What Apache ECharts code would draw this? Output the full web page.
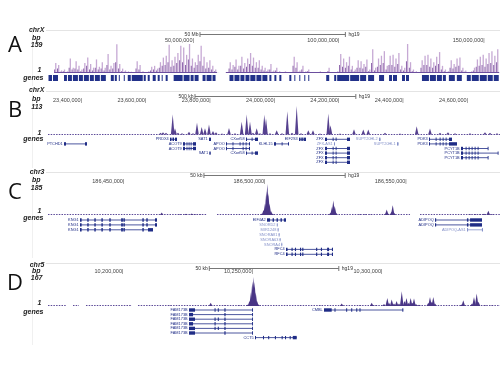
<!DOCTYPE html>
<html><head><meta charset="utf-8">
<script src="https://cdn.jsdelivr.net/npm/echarts@6/dist/echarts.min.js"></script>
<style>html,body{margin:0;padding:0;background:#fff}#c{width:500px;height:375px}</style>
</head><body><div id="c"></div>
<script>
// ---------------- DATA ----------------
const panelLetters = ['A','B','C','D'];
const chromNames = ['chrX','chrX','chr3','chr5'];
const maxBp = [159,113,185,167];
const xMin = [0, 23294300, 186423000, 10170900];
const xMax = [155270560, 24699500, 186583000, 10345400];
const ticksA = [50000000,100000000,150000000];
const ticksB = [23400000,23600000,23800000,24000000,24200000,24400000,24600000];
const ticksC = [186450000,186500000,186550000];
const ticksD = [10200000,10250000,10300000];
const scaleBars = [[52100000,102100000],[23751300,24251300],[186478200,186528200],[10233170,10283170]];
const scaleLabels = ['50 Mb','500 kb','50 kb','50 kb'];
const assembly = 'hg19';

// Panel A: coverage per 1 Mb bin (light, tall) and darker overlay
const sigALight = [0,0,55,45,15,20,10,80,30,65,40,20,55,85,50,30,75,35,60,30,105,40,55,158,50,25,15,10,8,5,
65,45,10,5,10,35,40,25,60,85,95,155,70,90,110,150,140,100,159,80,60,100,150,90,60,70,40,20,2,0,
0,5,60,45,75,40,90,55,80,110,85,60,70,40,30,20,50,15,30,10,5,10,5,5,90,60,15,40,10,20,
5,5,5,10,2,2,30,5,2,10,105,80,60,90,40,20,70,65,50,75,20,130,30,80,95,120,40,95,100,80,
110,40,30,159,60,20,10,5,70,95,100,80,60,90,115,40,20,10,70,50,80,85,30,15,5,10,30,75,90,100,
80,110,120,95,130];
const sigADark = [0,0,20,25,8,10,5,30,20,25,20,10,25,40,20,15,30,20,25,15,45,20,25,60,25,10,8,5,4,3,
25,20,5,3,5,15,20,15,30,40,45,60,35,40,55,70,60,45,75,40,30,45,65,40,25,30,20,10,1,0,
0,3,25,20,35,20,40,25,35,50,40,30,30,20,15,10,20,8,15,5,3,5,3,3,40,30,8,20,5,10,
3,3,3,5,1,1,12,3,1,5,45,35,30,40,20,10,30,30,25,35,10,55,15,35,45,55,20,45,45,35,
50,20,15,65,30,10,5,3,30,45,45,35,30,40,50,20,10,5,30,25,35,40,15,8,3,5,15,35,40,45,
35,50,55,45,60];
const baseA = [[2000000,58000000],[61000000,155000000]];
// Panel A gene blocks (Mb)
const genesA = [[0,1.2],[1.54,3.26],[5.32,6.34],[6.69,8.06],[8.4,10.12],[10.46,11.83],[12.17,13.89],[14.23,15.6],
[15.95,17.66],[18.0,19.72],[21.43,22.46],[22.8,23.49],[24.18,24.52],[25.89,26.23],[27.26,28.29],[28.63,32.41],
[32.75,33.44],[34.12,34.81],[35.84,36.87],[37.55,38.24],[38.92,39.27],[40.29,40.98],[43.04,46.12],[46.47,48.52],
[48.87,49.9],[50.24,51.61],[52.98,54.01],[54.35,56.07],[56.41,57.44],[62.24,63.61],[63.95,65.67],[66.01,67.38],
[67.73,69.1],[69.4,71.16],[71.5,73.21],[73.56,75.27],[75.96,76.65],[77.68,78.36],[79.39,80.08],[82.82,83.51],
[84.54,84.88],[86.25,86.59],[87.96,88.31],[89.33,89.68],[95.51,96.54],[98.25,98.94],[99.28,103.4],[103.74,106.82],
[107.17,109.23],[109.91,111.97],[113.68,115.4],[117.11,118.14],[118.48,119.85],[121.57,122.6],[122.94,123.97],
[128.43,130.83],[131.17,133.23],[133.57,135.29],[135.63,136.66],[137.69,139.74],[140.43,142.14],[143.86,145.23],
[145.57,147.97],[148.32,150.72],[151.06,152.78],[153.12,154.84]];

// Panels B-D: coverage peaks [centre bp, height]
const peaksB = [[23644040,8],[23651812,10],[23661138,8],[23681978,78],[23689118,25],[23698444,8],[23710879,6],
[23732641,12],[23745076,6],[23757511,46],[23772122,30],[23782382,25],[23794817,40],[23807252,15],[23816578,10],
[23835231,5],[23856993,26],[23875646,6],[23896474,50],[23912018,78],[23922278,50],[23931604,8],[23943107,25],
[23953366,6],[23966734,78],[23972018,64],[23984454,6],[24005283,17],[24021759,6],[24038236,91],[24052847,8],
[24067459,112],[24080826,6],[24103521,17],[24118132,17],[24139894,5],[24165697,82],[24172536,37],[24202070,5],
[24245593,21],[24274505,20],[24290049,20],[24342006,8],[24388638,5],[24440556,33],[24481862,24],[24512950,8],
[24537820,10],[24559582,6],[24606214,6],[24652846,10],[24668390,8],[24690151,6]];
const baseB = [[23294300,24699500]];
const peaksC = [[186463250,16],[186469728,6],[186471852,8],[186473870,10],[186475038,6],[186476808,5],
[186498756,10],[186499287,30],[186499818,70],[186500278,140],[186500632,185],[186500986,130],[186501411,70],
[186501942,25],[186502473,8],[186523005,15],[186523536,50],[186523996,89],[186524492,55],[186524952,15],
[186533448,5],[186535218,6],[186536988,4],[186542475,10],[186542900,34],[186543352,10],[186544599,20],
[186545024,59],[186545484,15],[186572388,5],[186574158,7],[186575928,5],[186577344,8],[186578866,26],[186580176,6]];
const baseC = [[186423000,186479286],[186482826,186551148],[186554688,186583000]];
const peaksD = [[10202557,3],[10218000,4],[10233713,19],[10239233,5],[10244637,6],
[10248112,10],[10248691,30],[10249270,80],[10249772,140],[10250158,167],[10250621,140],[10251085,80],[10251586,30],[10252088,10],
[10268187,3],[10275908,4],[10284286,15],[10291351,5],[10295867,19],[10297528,6],
[10300616,12],[10301890,47],[10302546,20],[10303594,38],[10304477,15],[10305482,30],[10306407,15],[10307471,86],
[10308530,30],[10309290,47],[10310152,20],[10310913,47],[10311619,20],[10312200,44],[10312970,12],[10314128,8],
[10317719,20],[10318375,53],[10319031,25],[10319649,53],[10320305,15],[10330536,10],[10331231,34],
[10334589,15],[10335362,53],[10336404,73],[10337099,25],[10339608,5],[10342311,4]];
const baseD = [[10170900,10177849],[10180552,10182868],[10185570,10202943],[10205645,10345400]];

// Genes: [name, row, start, end, noncoding, exons as flat start/end pairs]
const genesB = [
 ['PTCHD1',1,23344041,23415543,0,[23344041,23350259,23409326,23415543]],
 ['PRDX4',0,23673574,23695335,0,[23673574,23678237,23681346,23686009,23689118,23695335]],
 ['ACOT9',1,23713988,23754402,0,[23713988,23720206,23725000,23727500,23731500,23733700,23737800,23740000,23745076,23754402]],
 ['ACOT9',2,23713988,23754402,0,[23713988,23720206,23725000,23727500,23731500,23733700,23737800,23740000,23745076,23754402]],
 ['SAT1',0,23794817,23801034,0,[23794817,23801034]],
 ['SAT1',3,23796000,23800000,0,[23796000,23800000]],
 ['APOO',1,23847666,23922278,0,[23847666,23850775,23868000,23870500,23890000,23892300,23899500,23901600,23908800,23911000,23919169,23922278]],
 ['APOO',2,23847666,23922278,0,[23847666,23850775,23868000,23870500,23899500,23901600,23908800,23911000,23919169,23922278]],
 ['CXorf58',0,23909842,23947148,0,[23909842,23912951,23927400,23929600,23937822,23947148]],
 ['CXorf58',3,23909842,23947148,0,[23909842,23912951,23927400,23929600,23937822,23947148]],
 ['KLHL15',1,23996889,24043521,0,[23996889,24003106,24020700,24022800,24040412,24043521]],
 ['EIF2S3',0,24074609,24096370,0,[24074609,24078000,24079500,24083000,24084500,24088000,24089500,24096370]],
 ['ZFX',0,24155438,24233158,0,[24155438,24161655,24179300,24181400,24188600,24190700,24223831,24233158]],
 ['ZFX-AS1',1,24183417,24186526,1,[24183417,24186526]],
 ['ZFX',2,24155438,24233158,0,[24155438,24161655,24179300,24181400,24188600,24190700,24223831,24233158]],
 ['ZFX',3,24155438,24233158,0,[24155438,24161655,24179300,24181400,24188600,24190700,24223831,24233158]],
 ['ZFX',4,24155438,24233158,0,[24155438,24161655,24179300,24181400,24188600,24190700,24223831,24233158]],
 ['ZFX',5,24155438,24233158,0,[24155438,24161655,24179300,24181400,24188600,24190700,24223831,24233158]],
 ['SUPT20HL2',0,24323313,24327976,1,[24323313,24327976]],
 ['SUPT20HL1',1,24379271,24383934,1,[24379271,24383934]],
 ['PDK3',0,24478753,24550255,0,[24478753,24481862,24499500,24501600,24511900,24514000,24521300,24523300,24530600,24532700,24540929,24550255]],
 ['PDK3',1,24478753,24565799,0,[24478753,24481862,24499500,24501600,24511900,24514000,24521300,24523300,24530600,24532700,24540929,24565799]],
 ['PCYT1B',2,24578234,24662171,0,[24578234,24584452,24592700,24594800,24602100,24604200,24611400,24613500,24620700,24622800,24630000,24632100,24661100,24662171]],
 ['PCYT1B',3,24578234,24693260,0,[24578234,24584452,24592700,24594800,24602100,24604200,24611400,24613500,24620700,24622800,24630000,24632100,24692200,24693260]],
 ['PCYT1B',4,24578234,24662171,0,[24578234,24584452,24592700,24594800,24602100,24604200,24611400,24613500,24620700,24622800,24630000,24632100,24661100,24662171]]
];
const kng1Exons = [186434328,186434900,186436900,186437400,186439400,186439900,186441900,186442400,186444700,186445200,186448900,186449500,186449700,186450200,186456400,186456900,186457800,186458300,186460878,186461586];
const rfc4Exons = [186507252,186507800,186509200,186509600,186510400,186510800,186512200,186512600,186513000,186513400,186517900,186518300,186519600,186520000,186521800,186522500,186523500,186523890];
const genesC = [
 ['KNG1',0,186434328,186461586,0,kng1Exons],
 ['KNG1',1,186434328,186461586,0,kng1Exons],
 ['KNG1',2,186434328,186460170,0,[186434328,186434900,186436900,186437400,186439400,186439900,186441900,186442400,186444700,186445200,186448900,186449500,186449700,186450200,186456400,186456900,186458400,186460170]],
 ['EIF4A2',0,186500526,186507252,0,[186500526,186501600,186502500,186503000,186503900,186504400,186505300,186505800,186506500,186507252]],
 ['SNORD2',1,186504000,186504300,1,[186504000,186504300]],
 ['MIR1248',2,186504300,186504600,1,[186504300,186504600]],
 ['SNORA81',3,186504650,186504950,1,[186504650,186504950]],
 ['SNORA63',4,186505000,186505300,1,[186505000,186505300]],
 ['SNORA4',5,186505600,186505900,1,[186505600,186505900]],
 ['RFC4',6,186507252,186523890,0,rfc4Exons],
 ['RFC4',7,186507252,186523890,0,rfc4Exons],
 ['ADIPOQ',0,186559998,186576636,0,[186559998,186560400,186571300,186571800,186572400,186576636]],
 ['ADIPOQ',1,186559998,186576636,0,[186559998,186560400,186571300,186571800,186572400,186576636]],
 ['ADIPOQ-AS1',2,186571326,186576990,1,[186571326,186571700,186576600,186576990]]
];
const fam173bExons = [10225335,10227651,10235200,10235600,10236450,10236850,10239000,10239450,10249700,10250042];
const genesD = [
 ['FAM173B',0,10225335,10250042,0,fam173bExons],
 ['FAM173B',1,10225335,10250042,0,[10225335,10226900,10239000,10239450,10249700,10250042]],
 ['FAM173B',2,10225335,10250042,0,fam173bExons],
 ['FAM173B',3,10225335,10250042,0,[10225335,10226900,10235200,10235600,10239000,10239450,10249700,10250042]],
 ['FAM173B',4,10225335,10250042,0,fam173bExons],
 ['FAM173B',5,10225335,10250042,0,[10225335,10227651,10239000,10239450,10249700,10250042]],
 ['CCT5',6,10250814,10266913,0,[10250814,10251200,10253900,10254300,10255900,10256300,10258500,10258900,10261100,10261500,10262400,10262800,10264200,10264600,10265400,10266913]],
 ['CMBL',0,10277453,10308069,0,[10277453,10280425,10281500,10281900,10286000,10286400,10287950,10288350,10289900,10290300,10291150,10291550,10307700,10308069]]
];

// ---------------- LAYOUT / STYLE ----------------
const FONT = '"Liberation Sans", Arial, sans-serif';
const NAVY = '#1f2c86', LIGHT = '#8591c9';
const PEAK = ['#9a74b0','#56418f','#4a3686','#4a3686'];
const LAY = [
 {left:48.5, width:452.8, sigTop:44, sigH:29, geneTop:75, geneH:6, rows:1, yLab:[30.5,38.5,45.5,70.5,78.5], letterY:46, sepY:30.5, bottom:86, tickM:4, barOff:10.3},
 {left:48, width:452, sigTop:105.5, sigH:29, geneTop:137, geneH:27.6, rows:6, yLab:[90.3,99.5,107,133.3,139.2], letterY:111, sepY:91.5, bottom:168, tickM:5.5, barOff:9.8},
 {left:48, width:452, sigTop:184, sigH:31, geneTop:217.55, geneH:39.2, rows:8, yLab:[171.7,180,188.3,211,218.3], letterY:192.5, sepY:172.5, bottom:258, tickM:2.5, barOff:8.7},
 {left:48, width:452, sigTop:277, sigH:29, geneTop:307.7, geneH:32.2, rows:7, yLab:[265,271,278.3,303.3,311.7], letterY:284, sepY:263.5, bottom:345, tickM:5.3, barOff:8.7}
];
const labX = [44.5,40.5,42.5,41.5,43.5];

const chart = echarts.init(document.getElementById('c'), null, {renderer:'canvas'});
const grids = [], xAxes = [], yAxes = [], series = [], graphics = [];
const tickSets = [ticksA, ticksB, ticksC, ticksD];
const fmt = v => v.toLocaleString('en-US');

LAY.forEach((L, p) => {
  const gs = p*2, gg = p*2+1;
  grids.push({left:L.left, top:L.sigTop, width:L.width, height:L.sigH, show:false});
  grids.push({left:L.left, top:L.geneTop, width:L.width, height:L.geneH, show:false});
  xAxes.push({gridIndex:gs, type:'value', min:xMin[p], max:xMax[p], position:'top',
    axisLine:{show:false}, axisTick:{show:false}, splitLine:{show:false},
    axisLabel:{customValues:tickSets[p], formatter:v => fmt(v)+'|', align:'right', verticalAlign:'middle',
      margin:L.tickM, fontSize:5.5, fontFamily:FONT, color:'#444'}});
  xAxes.push({gridIndex:gg, type:'value', min:xMin[p], max:xMax[p], show:false});
  yAxes.push({gridIndex:gs, type:'value', min:1, max:maxBp[p], show:false});
  yAxes.push({gridIndex:gg, type:'value', min:-0.5, max:L.rows-0.5, inverse:true, show:false});

  // scale bar
  series.push({type:'custom', xAxisIndex:gs, yAxisIndex:gs, silent:true, clip:false,
    data:[scaleBars[p]],
    renderItem:(params, api) => {
      const a = api.coord([api.value(0),1])[0], b = api.coord([api.value(1),1])[0];
      const y = Math.round(params.coordSys.y - L.barOff) + 0.5;
      const st = {stroke:'#777', lineWidth:1};
      return {type:'group', children:[
        {type:'line', shape:{x1:a, y1:y, x2:b, y2:y}, style:st},
        {type:'line', shape:{x1:a, y1:y-2.5, x2:a, y2:y+2.5}, style:st},
        {type:'line', shape:{x1:b, y1:y-2.5, x2:b, y2:y+2.5}, style:st},
        {type:'text', style:{x:a-1.5, y:y, text:scaleLabels[p], align:'right', verticalAlign:'middle', fontSize:5, fontFamily:FONT, fill:'#333'}},
        {type:'text', style:{x:b+3, y:y, text:assembly, align:'left', verticalAlign:'middle', fontSize:5, fontFamily:FONT, fill:'#333'}}
      ]};
    }});

  // frame lines first, then labels on top
  graphics.push({type:'line', z:1, shape:{x1:46, y1:L.sepY, x2:500, y2:L.sepY}, style:{stroke:'#e4e4e4', lineWidth:1}});
  graphics.push({type:'line', z:1, shape:{x1:32.5, y1:L.sepY, x2:32.5, y2:L.bottom}, style:{stroke:'#f0f0f0', lineWidth:1}});
  const labs = [chromNames[p], 'bp', String(maxBp[p]), '1', 'genes'];
  labs.forEach((t, k) => graphics.push({type:'text', z:5, x:labX[k], y:L.yLab[k],
    style:{text:t, align:'right', verticalAlign:'middle', font:'italic bold 7px '+FONT, fill:'#222'}}));
  graphics.push({type:'text', z:5, x:15, y:L.letterY, style:{text:panelLetters[p], align:'center', verticalAlign:'middle', font:'22px "Open Sans", sans-serif', fill:'#111'}});
});

// baseline renderer
function baseRender(color, dash){ return (params, api) => {
  const a = api.coord([api.value(0),1]), b = api.coord([api.value(1),1]);
  const y = Math.round(a[1]) - 0.5;
  return {type:'line', shape:{x1:a[0], y1:y, x2:b[0], y2:y}, style:{stroke:color, lineWidth:1, lineDash:dash}};
};}
function barRender(color, w){ return (params, api) => {
  const b = api.coord([api.value(0),1]), t = api.coord([api.value(0),api.value(1)]);
  return {type:'rect', shape:{x:b[0]-w/2, y:t[1], width:w, height:b[1]-t[1]}, style:{fill:color}};
};}
function peakRender(color, hw){ return (params, api) => {
  const b = api.coord([api.value(0),1]), t = api.coord([api.value(0),api.value(1)]);
  return {type:'polygon', shape:{points:[[b[0]-hw,b[1]],[t[0],t[1]],[b[0]+hw,b[1]]]}, style:{fill:color}};
};}
function geneRender(genes){ return (params, api) => {
  const g = genes[params.dataIndex];
  const s = api.coord([g[2], g[1]]), e = api.coord([g[3], g[1]]);
  const y = s[1];
  const col = g[4] ? LIGHT : NAVY;
  const ch = [{type:'line', shape:{x1:s[0], y1:y, x2:e[0], y2:y}, style:{stroke:col, lineWidth:0.8}}];
  const ex = g[5];
  for (let k=0; k<ex.length; k+=2){
    const a = api.coord([ex[k], g[1]])[0], b = api.coord([ex[k+1], g[1]])[0];
    ch.push({type:'rect', shape:{x:a, y:y-1.7, width:Math.max(b-a,0.9), height:3.4}, style:{fill:col}});
  }
  ch.push({type:'text', style:{text:g[0], x:s[0]-1.3, y:y, align:'right', verticalAlign:'middle', fontSize:3.9, fontFamily:FONT, fill:col}});
  return {type:'group', children:ch};
};}

// Panel A
series.push({type:'custom', xAxisIndex:0, yAxisIndex:0, silent:true, data:sigALight.map((v,i)=>[(i+0.5)*1e6, v]).filter(d=>d[1]>0), renderItem:barRender('#c6a9d4',1.3)});
series.push({type:'custom', xAxisIndex:0, yAxisIndex:0, silent:true, data:sigADark.map((v,i)=>[(i+0.1)*1e6, v]).filter(d=>d[1]>0), renderItem:barRender('#8c64aa',1)});
series.push({type:'custom', xAxisIndex:0, yAxisIndex:0, silent:true, data:baseA, renderItem:baseRender('#6b4e9e',null)});
series.push({type:'custom', xAxisIndex:1, yAxisIndex:1, silent:true, data:genesA.map(d=>[d[0]*1e6, d[1]*1e6]),
  renderItem:(params, api) => {
    const a = api.coord([api.value(0),0])[0], b = api.coord([api.value(1),0])[0];
    const cs = params.coordSys;
    return {type:'rect', shape:{x:a, y:cs.y, width:Math.max(b-a,1), height:cs.height}, style:{fill:'#22318a'}};
  }});

// Panels B-D
const peakSets = [null, peaksB, peaksC, peaksD];
const baseSets = [null, baseB, baseC, baseD];
const geneSets = [null, genesB, genesC, genesD];
for (let p=1; p<4; p++){
  const gs = p*2, gg = p*2+1;
  series.push({type:'custom', xAxisIndex:gs, yAxisIndex:gs, silent:true, data:baseSets[p], renderItem:baseRender('#5c4a98',[1.5,1.2])});
  series.push({type:'custom', xAxisIndex:gs, yAxisIndex:gs, silent:true, data:peakSets[p], renderItem:peakRender(PEAK[p],1.8)});
  series.push({type:'custom', xAxisIndex:gg, yAxisIndex:gg, silent:true, clip:false, data:geneSets[p].map(g=>[g[2],g[3],g[1]]), renderItem:geneRender(geneSets[p])});
}

chart.setOption({animation:false, backgroundColor:'#fff', grid:grids, xAxis:xAxes, yAxis:yAxes, series:series, graphic:graphics});
</script></body></html>
